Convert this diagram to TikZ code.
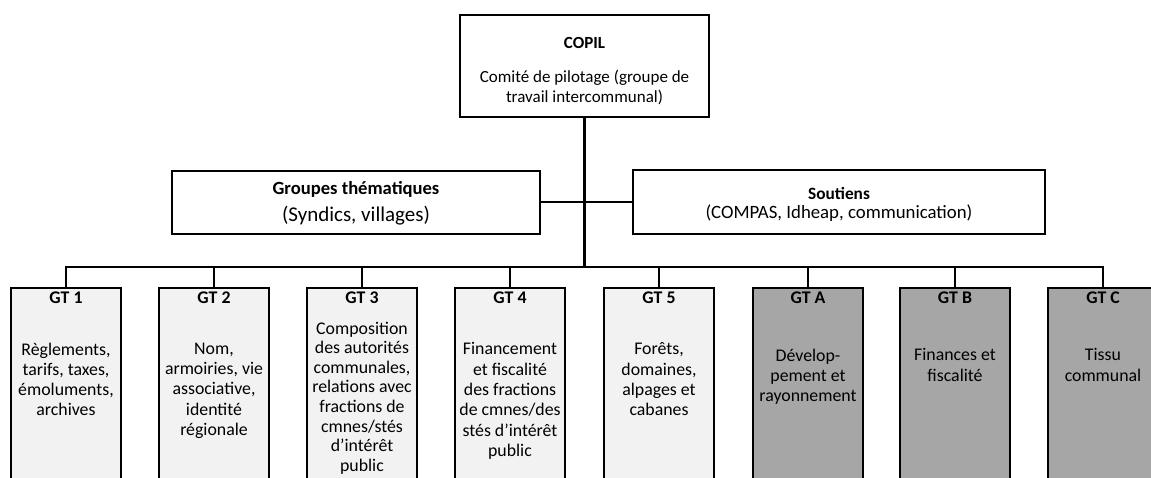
\documentclass[tikz,border=0pt]{standalone}
\usepackage{fontspec}
\setmainfont{Carlito}
\definecolor{lightg}{HTML}{F2F2F2}
\definecolor{darkg}{HTML}{A6A6A6}
\tikzset{
  box/.style={draw=black, line width=2pt, fill=white, inner sep=0pt},
  gtbox/.style={box, anchor=north, minimum width=110pt, minimum height=210pt},
  light/.style={fill=lightg},
  dark/.style={fill=darkg},
  txt/.style={align=center, inner sep=0pt, font=\fontsize{17.8}{20.3}\selectfont},
  ttl/.style={txt, font=\fontsize{17.8}{20.3}\selectfont\bfseries},
  body/.style={txt, anchor=north},
  link/.style={line width=1.8pt},
}
\begin{document}
\begin{tikzpicture}[x=1pt,y=-1pt]
\useasboundingbox (0,0) rectangle (1151,477);
\clip (0,0) rectangle (1151,477);
% top box
\node[box, minimum width=249pt, minimum height=102pt] (copil) at (584.5,66) {};
\node[ttl, font=\fontsize{17}{20.3}\selectfont\bfseries] (copilt) at (584.5,43) {COPIL};
\node[txt, font=\fontsize{17}{20.3}\selectfont] (copilb) at (584.5,87.5) {Comité de pilotage (groupe de\\ travail intercommunal)};
% second row
\node[box, minimum width=368pt, minimum height=63pt] (grp) at (356,202) {};
\node[ttl, font=\fontsize{18.6}{20.3}\selectfont\bfseries] (grpt) at (356,189.5) {Groupes thématiques};
\node[txt, font=\fontsize{21}{22}\selectfont] (grpb) at (356,215.5) {(Syndics, villages)};
\node[box, minimum width=412pt, minimum height=64pt] (sout) at (839,202) {};
\node[ttl, font=\fontsize{17.3}{20.3}\selectfont\bfseries] (soutt) at (839,193.5) {Soutiens};
\node[txt, font=\fontsize{18.8}{20.3}\selectfont] (soutb) at (839,213.5) {(COMPAS, Idheap, communication)};
% junction coordinates
\coordinate (bar) at (584.5,267);
\draw[line width=2.6pt] (copil.south) -- (bar);
\draw[link] (grp.east) -- (sout.west);
% GT boxes
\foreach \n/\x/\f/\t in {1/66/light/GT 1, 2/214/light/GT 2, 3/362/light/GT 3, 4/510/light/GT 4, 5/659/light/GT 5, A/808/dark/GT A, B/955/dark/GT B, C/1103/dark/GT C}{
  \node[gtbox, \f] (gt\n) at (\x,287) {};
  \node[ttl] (gtt\n) at (\x,297.5) {\t};
}
\draw[line width=2.6pt] (gt1.north) |- (bar) -| (gtC.north);
\foreach \n in {2,3,4,5,A,B}{
  \draw[link] (gt\n.north) -- (gt\n.north |- bar);
}
% bodies
\node[body] (b1) at (66,342.5) {Règlements,\\ tarifs, taxes,\\ émoluments,\\ archives};
\node[body] (b2) at (214,342.5) {Nom,\\ armoiries, vie\\ associative,\\ identité\\ régionale};
\node[body, font=\fontsize{17.8}{19.6}\selectfont] (b3) at (362,321.5) {Composition\\ des autorités\\ communales,\\ relations avec\\ fractions de\\ cmnes/stés\\ d’intérêt\\ public};
\node[body] (b4) at (510,342.5) {Financement\\ et fiscalité\\ des fractions\\ de cmnes/des\\ stés d’intérêt\\ public};
\node[body] (b5) at (659,342.5) {Forêts,\\ domaines,\\ alpages et\\ cabanes};
\node[body] (bA) at (808,348.5) {Dévelop-\\ pement et\\ rayonnement};
\node[body] (bB) at (955,348.5) {Finances et\\ fiscalité};
\node[body] (bC) at (1103,348.5) {Tissu\\ communal};
\end{tikzpicture}
\end{document}
